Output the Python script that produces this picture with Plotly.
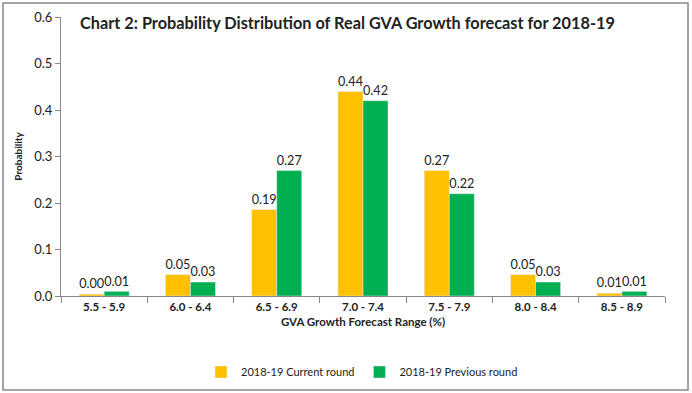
import plotly.graph_objects as go

categories = ["5.5 - 5.9", "6.0 - 6.4", "6.5 - 6.9", "7.0 - 7.4", "7.5 - 7.9", "8.0 - 8.4", "8.5 - 8.9"]
current_round = [0.004, 0.046, 0.186, 0.44, 0.27, 0.046, 0.006]
previous_round = [0.01, 0.03, 0.27, 0.42, 0.22, 0.03, 0.01]
series_names = ["2018-19 Current round", "2018-19 Previous round"]
title_text = "Chart 2: Probability Distribution of Real GVA Growth forecast for 2018-19"

FONT = "Lato"
fig = go.Figure()
for name, vals, color in [(series_names[0], current_round, "#FFC000"),
                          (series_names[1], previous_round, "#00B050")]:
    fig.add_trace(go.Bar(
        x=categories, y=vals, name=name, marker_color=color,
        text=[f"{v:.2f}" for v in vals], textposition="outside",
        textfont=dict(family=FONT, size=14, color="#222"),
        cliponaxis=False,
    ))

fig.update_layout(
    width=692, height=393,
    margin=dict(l=61, r=27, t=17, b=97, autoexpand=False),
    paper_bgcolor="white", plot_bgcolor="white",
    barmode="group", bargap=0.42, bargroupgap=0,
    showlegend=True,
    legend=dict(orientation="h", x=0.5 - 1 / 604, xanchor="center", y=-(372 - 296) / 279, yanchor="middle",
                font=dict(family=FONT, size=11, color="#222"), itemwidth=30,
                traceorder="normal"),
    font=dict(family=FONT, color="#222"),
)
fig.update_xaxes(
    automargin=False,
    showline=True, linecolor="#888", linewidth=1,
    ticks="outside", tickson="boundaries", ticklen=6, tickcolor="#888",
    tickfont=dict(family=FONT, size=11.5, color="#222", weight="bold"),
    title=dict(text="<b>GVA Growth Forecast Range (%)</b>", font=dict(family=FONT, size=11.5), standoff=6),
)
fig.update_yaxes(
    automargin=False,
    range=[0, 0.6], dtick=0.1, tickformat=".1f",
    showline=True, linecolor="#888", linewidth=1, showgrid=False, zeroline=False,
    ticks="outside", ticklen=5, tickcolor="#888",
    tickfont=dict(family=FONT, size=13, color="#222"),
    title=dict(text="<b>Probability</b>", font=dict(family=FONT, size=10), standoff=9),
)
fig.add_annotation(text=f"<b>{title_text}</b>", xref="paper", yref="paper",
                   x=(78 - 61) / 604, y=(296 - 23) / 279, xanchor="left", yanchor="middle",
                   showarrow=False, font=dict(family=FONT, size=16.3, color="#222"))
fig.add_shape(type="rect", xref="paper", yref="paper",
              x0=(3 - 61) / 604, x1=(688 - 61) / 604, y0=(296 - 390) / 279, y1=(296 - 3) / 279,
              line=dict(color="#888", width=1.5), fillcolor="rgba(0,0,0,0)", layer="below")
fig.write_html("out.html", config={"displayModeBar": False},
               post_script="document.body.style.margin='0';document.body.style.overflow='hidden';")
